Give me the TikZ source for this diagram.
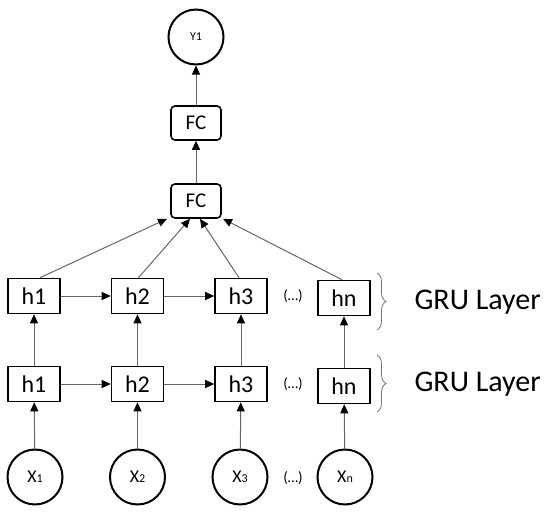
\documentclass[tikz,border=0pt]{standalone}
\usepackage{fontspec}
\setmainfont{Carlito}
\usetikzlibrary{arrows.meta,decorations.pathreplacing}
\begin{document}
\begin{tikzpicture}[x=1pt,y=-1pt,
  hbox/.style={draw=black, line width=1.6pt, minimum width=52pt, minimum height=35pt, inner sep=0pt, font=\fontsize{24}{24}\selectfont},
  fcbox/.style={draw=black, line width=1.6pt, rounded corners=4pt, minimum width=50pt, minimum height=34pt, inner sep=0pt, font=\fontsize{21}{21}\selectfont},
  io/.style={draw=black, circle, line width=2pt, minimum size=55pt, inner sep=0pt, font=\fontsize{18}{18}\selectfont},
  conn/.style={draw=black!60, line width=1pt, -{Triangle[length=9pt,width=8pt,color=black]}},
  dots/.style={font=\fontsize{15}{15}\selectfont},
  brc/.style={draw=black!55, line width=0.8pt, decorate, decoration={brace, amplitude=9pt}},
  lbl/.style={anchor=west, font=\fontsize{30}{30}\selectfont}
]
\useasboundingbox (0,0) rectangle (550,515);

\node[io, font=\fontsize{12}{12}\selectfont] (y) at (196,37) {Y1};
\node[fcbox] (fc2) at (196,123) {FC};
\node[fcbox] (fc1) at (196,201) {FC};

\node[hbox] (u1) at (34,296) {h1};
\node[hbox] (u2) at (137.5,296) {h2};
\node[hbox] (u3) at (241,296) {h3};
\node[hbox] (un) at (344,298) {hn};
\node[dots] (ud) at (293,296) {(…)};

\node[hbox] (l1) at (34,384) {h1};
\node[hbox] (l2) at (137.5,384) {h2};
\node[hbox] (l3) at (241,384) {h3};
\node[hbox] (ln) at (344,386) {hn};
\node[dots] (ld) at (293,384) {(…)};

\node[io] (x1) at (35,477) {X{\fontsize{12}{12}\selectfont 1}};
\node[io] (x2) at (137.5,477) {X{\fontsize{12}{12}\selectfont 2}};
\node[io] (x3) at (240,477) {X{\fontsize{12}{12}\selectfont 3}};
\node[io] (xn) at (345,477) {X{\fontsize{12}{12}\selectfont n}};
\node[dots] (xd) at (293,478) {(…)};

\coordinate (b1t) at (377,273);
\coordinate (b1b) at (377,330);
\coordinate (b2t) at (377,355);
\coordinate (b2b) at (377,412);
\draw[brc] (b1t) -- (b1b);
\draw[brc] (b2t) -- (b2b);
\node[lbl] (g1) at (411,302) {GRU Layer};
\node[lbl] (g2) at (411,384) {GRU Layer};

\draw[conn] (fc2) -- (y);
\draw[conn] (fc1) -- (fc2);

\draw[conn] ([xshift=6pt]u1.north) -- ([xshift=-29pt]fc1.south);
\draw[conn] ([xshift=1pt]u2.north) -- ([xshift=-6pt]fc1.south);
\draw[conn] ([xshift=-2pt]u3.north) -- ([xshift=4pt]fc1.south);
\draw[conn] ([xshift=-2pt]un.north) -- ([xshift=27pt]fc1.south);

\draw[conn] (u1) -- (u2);
\draw[conn] (u2) -- (u3);
\draw[conn] (l1) -- (l2);
\draw[conn] (l2) -- (l3);

\draw[conn] (l1) -- (u1);
\draw[conn] (l2) -- (u2);
\draw[conn] (l3) -- (u3);
\draw[conn] (ln) -- (un);

\draw[conn] (x1) -- (l1);
\draw[conn] (x2) -- (l2);
\draw[conn] (x3) -- (l3);
\draw[conn] (xn) -- (ln);
\end{tikzpicture}
\end{document}
